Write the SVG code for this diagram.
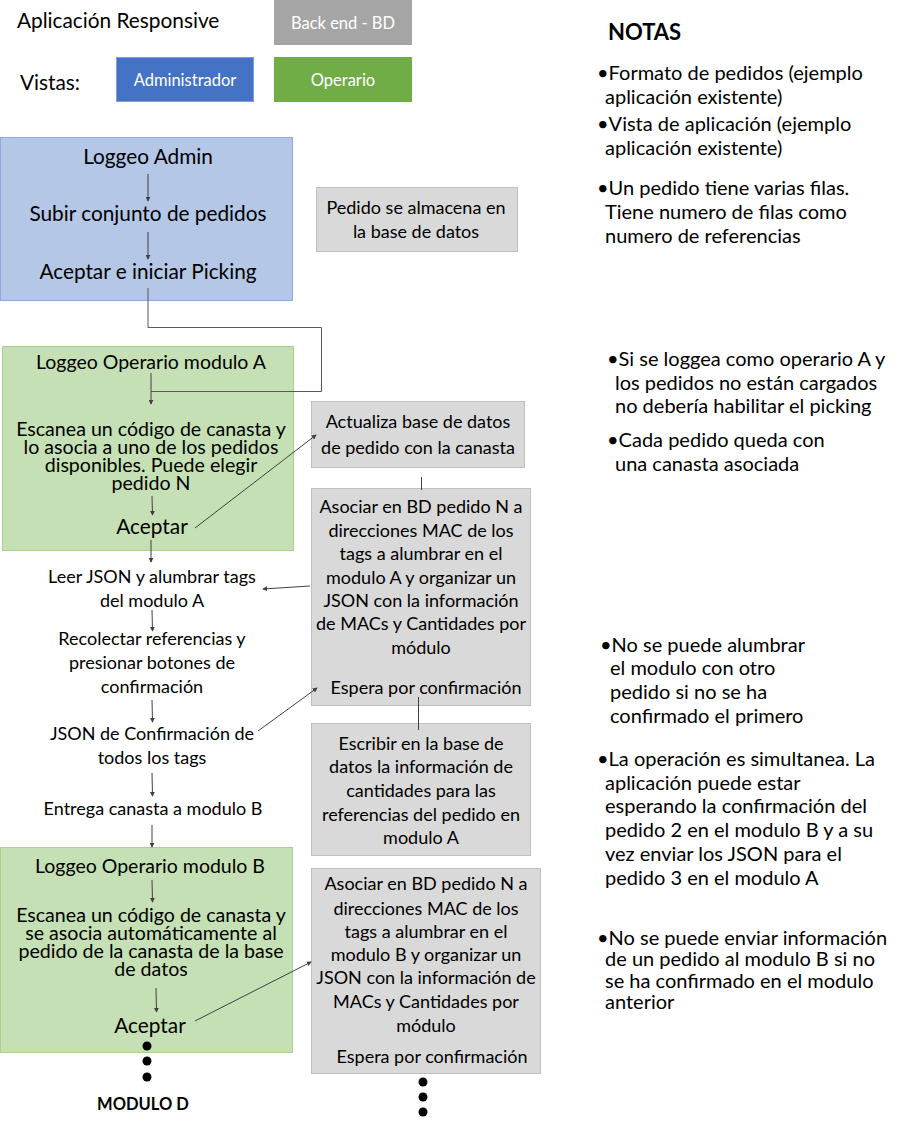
<svg xmlns="http://www.w3.org/2000/svg" width="911" height="1125" viewBox="0 0 911 1125">
<defs>
<marker id="ah" viewBox="0 0 6 6" refX="5" refY="3" markerWidth="5" markerHeight="5" orient="auto" markerUnits="userSpaceOnUse">
<path d="M0,0 L6,3 L0,6 z" fill="#404040"/>
</marker>
</defs>
<style>
text{font-family:Lato,"Open Sans","Liberation Sans",sans-serif;fill:#000}
.t20{font-size:20.8px}
.t19{font-size:19.5px}
.tg{font-size:19.6px}
.t17{font-size:18px}
.c{text-anchor:middle}
.w{fill:#fff;font-size:16.5px;text-anchor:middle}
.gray{fill:#d9d9d9;stroke:#bfbfbf;stroke-width:1}
.green{fill:#c5e0b4;stroke:#a9d18e;stroke-width:1}
.blue{fill:#b4c7e7;stroke:#8eaadb;stroke-width:1}
.ln{stroke:#404040;stroke-width:1;fill:none}
.la{stroke:#404040;stroke-width:1;fill:none;marker-end:url(#ah)}
.note{font-size:20px}
</style>
<rect width="911" height="1125" fill="#fff"/>

<g id="legend">
<text x="17" y="28" class="t20">Aplicación Responsive</text>
<rect x="274" y="0" width="138" height="45" fill="#a5a5a5"/>
<text x="343" y="29" class="w">Back end - BD</text>
<text x="20" y="90" class="t20">Vistas:</text>
<rect x="116.5" y="57.5" width="137" height="44" fill="#4472c4" stroke="#7f9fd9"/>
<text x="185" y="86" class="w">Administrador</text>
<rect x="274" y="57" width="138" height="45" fill="#70ad47"/>
<text x="343" y="86" class="w">Operario</text>
</g>

<g id="admin">
<rect x="0.5" y="137.5" width="292" height="163" class="blue"/>
<text x="148" y="164" class="t20 c">Loggeo Admin</text>
<text x="148" y="221" class="t20 c">Subir conjunto de pedidos</text>
<text x="148" y="279" class="t20 c">Aceptar e iniciar Picking</text>
</g>

<g id="db-store">
<rect x="316.5" y="187.5" width="201" height="64" class="gray"/>
<text x="416" y="214" class="t17 c">Pedido se almacena en</text>
<text x="416" y="238" class="t17 c">la base de datos</text>
</g>

<g id="operario-a">
<rect x="2.5" y="346.5" width="291" height="204" class="green"/>
<text x="151" y="369" class="t19 c">Loggeo Operario modulo A</text>
<text x="151" y="436" class="tg c">Escanea un código de canasta y</text>
<text x="151" y="454" class="tg c">lo asocia a uno de los pedidos</text>
<text x="151" y="472" class="tg c">disponibles. Puede elegir</text>
<text x="151" y="490" class="tg c">pedido N</text>
<text x="152" y="534" class="t20 c">Aceptar</text>
</g>

<g id="actualiza">
<rect x="311.5" y="401.5" width="213" height="66" class="gray"/>
<text x="418" y="428" class="t17 c">Actualiza base de datos</text>
<text x="418" y="454" class="t17 c">de pedido con la canasta</text>
</g>

<g id="asociar-a">
<rect x="311.5" y="488.5" width="219" height="217" class="gray"/>
<text x="421" y="513" class="t17 c">Asociar en BD pedido N a</text>
<text x="421" y="537" class="t17 c">direcciones MAC de los</text>
<text x="421" y="560" class="t17 c">tags a alumbrar en el</text>
<text x="421" y="584" class="t17 c">modulo A y organizar un</text>
<text x="421" y="607" class="t17 c">JSON con la información</text>
<text x="421" y="630" class="t17 c">de MACs y Cantidades por</text>
<text x="421" y="654" class="t17 c">módulo</text>
<text x="426" y="694" class="t17 c">Espera por confirmación</text>
</g>

<g id="leer-json">
<text x="152" y="583" class="t17 c">Leer JSON y alumbrar tags</text>
<text x="152" y="607" class="t17 c">del modulo A</text>
</g>
<g id="recolectar">
<text x="152" y="645" class="t17 c">Recolectar referencias y</text>
<text x="152" y="669" class="t17 c">presionar botones de</text>
<text x="152" y="693" class="t17 c">confirmación</text>
</g>
<g id="json-confirm">
<text x="152" y="740" class="t17 c">JSON de Confirmación de</text>
<text x="152" y="764" class="t17 c">todos los tags</text>
</g>
<g id="entrega">
<text x="153" y="815" class="t17 c">Entrega canasta a modulo B</text>
</g>

<g id="escribir">
<rect x="311.5" y="723.5" width="219" height="132" class="gray"/>
<text x="421" y="750" class="t17 c">Escribir en la base de</text>
<text x="421" y="773" class="t17 c">datos la información de</text>
<text x="421" y="797" class="t17 c">cantidades para las</text>
<text x="421" y="821" class="t17 c">referencias del pedido en</text>
<text x="421" y="844" class="t17 c">modulo A</text>
</g>

<g id="operario-b">
<rect x="0.5" y="847.5" width="292" height="205" class="green"/>
<text x="150" y="873" class="t19 c">Loggeo Operario modulo B</text>
<text x="151" y="922" class="tg c">Escanea un código de canasta y</text>
<text x="151" y="940" class="tg c">se asocia automáticamente al</text>
<text x="151" y="958" class="tg c">pedido de la canasta de la base</text>
<text x="151" y="976" class="tg c">de datos</text>
<text x="150" y="1033" class="t20 c">Aceptar</text>
</g>

<g id="asociar-b">
<rect x="311.5" y="868.5" width="229" height="205" class="gray"/>
<text x="426" y="890" class="t17 c">Asociar en BD pedido N a</text>
<text x="426" y="915" class="t17 c">direcciones MAC de los</text>
<text x="426" y="938" class="t17 c">tags a alumbrar en el</text>
<text x="426" y="961" class="t17 c">modulo B y organizar un</text>
<text x="426" y="984" class="t17 c">JSON con la información de</text>
<text x="426" y="1008" class="t17 c">MACs y Cantidades por</text>
<text x="426" y="1032" class="t17 c">módulo</text>
<text x="432" y="1063" class="t17 c">Espera por confirmación</text>
</g>

<g id="modulo-d">
<circle cx="147" cy="1046" r="4.5" fill="#000"/>
<circle cx="147" cy="1061" r="4.5" fill="#000"/>
<circle cx="147" cy="1077" r="4.5" fill="#000"/>
<text x="143" y="1110" style="font-size:16.5px;font-weight:bold" class="c">MODULO D</text>
</g>
<g id="more-b">
<circle cx="423" cy="1082" r="4.5" fill="#000"/>
<circle cx="423" cy="1097" r="4.5" fill="#000"/>
<circle cx="423" cy="1112" r="4.5" fill="#000"/>
</g>

<g id="notas">
<text x="608" y="40" style="font-size:22px;font-weight:bold">NOTAS</text>
<text x="597" y="80" class="note">•Formato de pedidos (ejemplo</text>
<text x="605" y="104" class="note">aplicación existente)</text>
<text x="597" y="131" class="note">•Vista de aplicación (ejemplo</text>
<text x="605" y="155" class="note">aplicación existente)</text>
<text x="597" y="195" class="note">•Un pedido tiene varias filas.</text>
<text x="605" y="219" class="note">Tiene numero de filas como</text>
<text x="605" y="243" class="note">numero de referencias</text>
<text x="607" y="366" class="note">•Si se loggea como operario A y</text>
<text x="615" y="390" class="note">los pedidos no están cargados</text>
<text x="615" y="413" class="note">no debería habilitar el picking</text>
<text x="607" y="447" class="note">•Cada pedido queda con</text>
<text x="615" y="471" class="note">una canasta asociada</text>
<text x="600" y="652" class="note">•No se puede alumbrar</text>
<text x="610" y="675" class="note">el modulo con otro</text>
<text x="610" y="699" class="note">pedido si no se ha</text>
<text x="610" y="723" class="note">confirmado el primero</text>
<text x="597" y="766" class="note">•La operación es simultanea. La</text>
<text x="605" y="790" class="note">aplicación puede estar</text>
<text x="605" y="813" class="note">esperando la confirmación del</text>
<text x="605" y="837" class="note">pedido 2 en el modulo B y a su</text>
<text x="605" y="861" class="note">vez enviar los JSON para el</text>
<text x="605" y="885" class="note">pedido 3 en el modulo A</text>
<text x="597" y="945" class="note">•No se puede enviar información</text>
<text x="605" y="966" class="note">de un pedido al modulo B si no</text>
<text x="605" y="988" class="note">se ha confirmado en el modulo</text>
<text x="605" y="1009" class="note">anterior</text>
</g>

<g id="connectors">
<line x1="148" y1="174" x2="148" y2="201" class="la"/>
<line x1="148" y1="232" x2="148" y2="259" class="la"/>
<polyline points="148,288 148,327.5 321.5,327.5 321.5,391.5 151,391.5" class="ln" style="stroke:#595959"/>
<line x1="151" y1="373" x2="151" y2="404" class="la"/>
<line x1="152" y1="496" x2="152.5" y2="515" class="la"/>
<line x1="195" y1="528" x2="316" y2="435" class="la"/>
<line x1="151" y1="540" x2="151" y2="562" class="la"/>
<line x1="421.5" y1="477" x2="421.5" y2="490" class="ln"/>
<line x1="310" y1="586" x2="263" y2="589" class="la"/>
<line x1="152" y1="610" x2="152.5" y2="631" class="la"/>
<line x1="152" y1="700" x2="152.5" y2="722" class="la"/>
<line x1="258" y1="731" x2="317" y2="688" class="la"/>
<line x1="418.5" y1="697" x2="418.5" y2="730" class="ln"/>
<line x1="152" y1="773" x2="152.5" y2="796" class="la"/>
<line x1="152" y1="825" x2="152" y2="847" class="la"/>
<line x1="152" y1="880" x2="152.5" y2="902" class="la"/>
<line x1="156" y1="988" x2="156.5" y2="1012" class="la"/>
<line x1="195" y1="1021" x2="311" y2="962" class="la"/>
</g>
</svg>
